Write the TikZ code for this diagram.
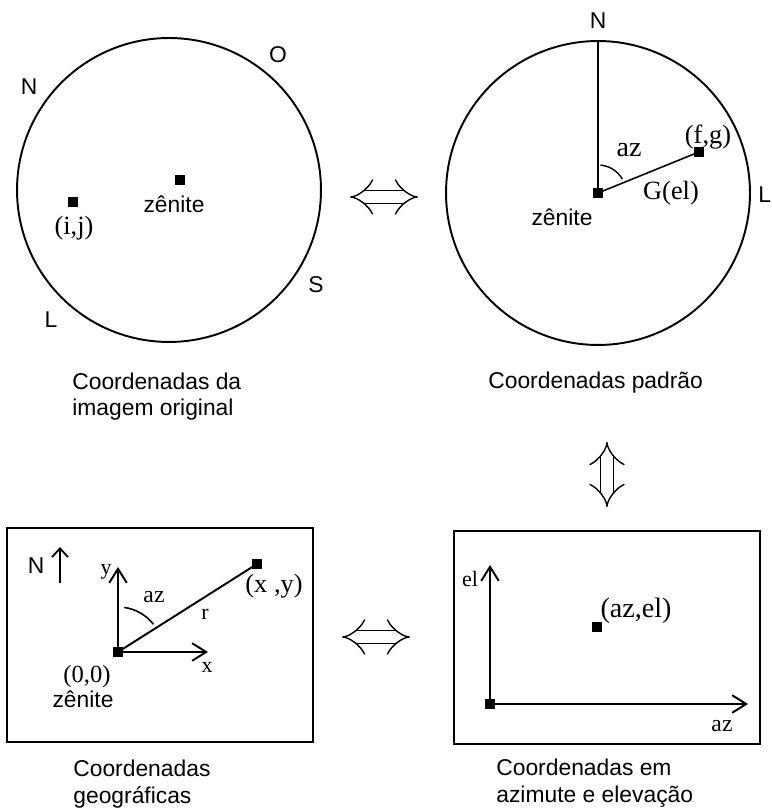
\documentclass[tikz,border=0pt]{standalone}
\usepackage{fontspec}
\setmainfont{Liberation Serif}
\setsansfont{Liberation Sans}
\usetikzlibrary{arrows.meta}

\tikzset{
  pix/.style={rectangle, fill=black, minimum size=6pt, inner sep=0pt},
  lbl/.style={font=\sffamily\fontsize{13}{15.3}\selectfont, inner sep=0pt, anchor=base},
  var/.style={font=\fontsize{15}{17}\selectfont, inner sep=0pt, anchor=base},
  caption/.style={lbl, align=left, anchor=base west},
  axis/.style={line width=1.1pt, -{Straight Barb[length=8pt,width=10pt]}},
  dbl/.style={double, double distance=6.5pt, line width=0.8pt, {Implies[scale=1.5]}-{Implies[scale=1.5]}},
}

\begin{document}
\begin{tikzpicture}[x=0.02cm, y=0.02cm]
  \useasboundingbox (0,0) rectangle (771,811);

  % Original image
  \node[circle, draw, line width=1.1pt, minimum size=6.08cm, inner sep=0pt] (sky) at (169,621) {};
  \node[pix] (zen1) at (180,631) {};
  \node[lbl] (zen1lbl) at (174,598) {zênite};
  \node[pix] (ij) at (73,609) {};
  \node[var] (ijlbl) at (74,576) {(i,j)};
  \node[lbl] (n1) at (29,716) {N};
  \node[lbl] (o1) at (278,748) {O};
  \node[lbl] (s1) at (316,518) {S};
  \node[lbl] (l1) at (51,483) {L};
  \node[caption] (cap1) at (72,395) {Coordenadas da\\imagem original};

  % Standard coordinates
  \node[circle, draw, line width=1.1pt, minimum size=6.08cm, inner sep=0pt] (dial) at (598,618) {};
  \node[pix] (zen2) at (598,618) {};
  \node[pix] (fg) at (699,659) {};
  \draw[line width=0.9pt] (zen2.center) -- (dial.north);
  \draw[line width=0.9pt] (zen2.center) -- (fg.center);
  \draw[line width=0.8pt] ([shift={(85:0.56cm)}]zen2.center) arc[start angle=85, end angle=30, radius=0.56cm];
  \node[lbl] (n2) at (598,782) {N};
  \node[lbl, anchor=base west] (l2) at (758,608) {L};
  \node[var, font=\fontsize{16}{18}\selectfont] (az2) at (629,654) {az};
  \node[var] (fglbl) at (708,667) {(f,g)};
  \node[var] (gel) at (671,611) {G(el)};
  \node[lbl] (zen2lbl) at (562,585) {zênite};
  \node[caption] (cap2) at (488,422) {Coordenadas padrão};

  % Geographic coordinates
  \draw[line width=1.3pt] (7,69) rectangle (313,283);
  \node[pix] (org1) at (118,159) {};
  \coordinate (yend) at (118,244);
  \coordinate (xend) at (208,159);
  \draw[axis] (org1.center) -- (yend);
  \draw[axis] (org1.center) -- (xend);
  \node[pix] (xy) at (257,247) {};
  \draw[line width=1.1pt] (org1.center) -- (xy.center);
  \draw[line width=0.9pt] ([shift={(82:0.9cm)}]org1.center) arc[start angle=82, end angle=38, radius=0.9cm];
  \coordinate (nfoot) at (60,228);
  \coordinate (ntip) at (60,264);
  \draw[line width=1pt, -{Straight Barb[length=5pt,width=9pt]}] (nfoot) -- (ntip);
  \node[lbl] (n3) at (36,237) {N};
  \node[var, font=\fontsize{12.5}{14}\selectfont] (ylbl) at (106,236) {y};
  \node[var, font=\fontsize{12.5}{14}\selectfont] (xlbl) at (207,138) {x};
  \node[var, font=\fontsize{13.5}{15}\selectfont] (az3) at (154,208) {az};
  \node[var, font=\fontsize{12.5}{14}\selectfont] (rlbl) at (205,191) {r};
  \node[var] (xylbl) at (274,218) {(x ,y)};
  \node[var, font=\fontsize{14}{16}\selectfont] (o0lbl) at (87,128) {(0,0)};
  \node[lbl] (zen3lbl) at (83,103) {zênite};
  \node[caption] (cap3) at (73,8) {Coordenadas\\geográficas};

  % Azimuth and elevation
  \draw[line width=1.3pt] (454,67) rectangle (760,280);
  \node[pix] (org2) at (490,107) {};
  \coordinate (elend) at (490,246);
  \coordinate (azend) at (748,107);
  \draw[axis] (org2.center) -- (elend);
  \draw[axis] (org2.center) -- (azend);
  \node[pix] (azel) at (597,184) {};
  \node[var, font=\fontsize{12.5}{14}\selectfont] (ellbl) at (470,224) {el};
  \node[var, font=\fontsize{13.5}{15}\selectfont] (az4) at (722,79) {az};
  \node[var, font=\fontsize{16}{18}\selectfont] (azellbl) at (636,193) {(az,el)};
  \node[caption] (cap4) at (496,9) {Coordenadas em\\azimute e elevação};

  % Conversions
  \coordinate (c1) at (350,614);
  \coordinate (c2) at (418,614);
  \coordinate (c3) at (607,369);
  \coordinate (c4) at (607,304);
  \coordinate (c5) at (342,174);
  \coordinate (c6) at (410,174);
  \draw[dbl] (c1) -- (c2);
  \draw[dbl] (c3) -- (c4);
  \draw[dbl] (c5) -- (c6);

\end{tikzpicture}
\end{document}
